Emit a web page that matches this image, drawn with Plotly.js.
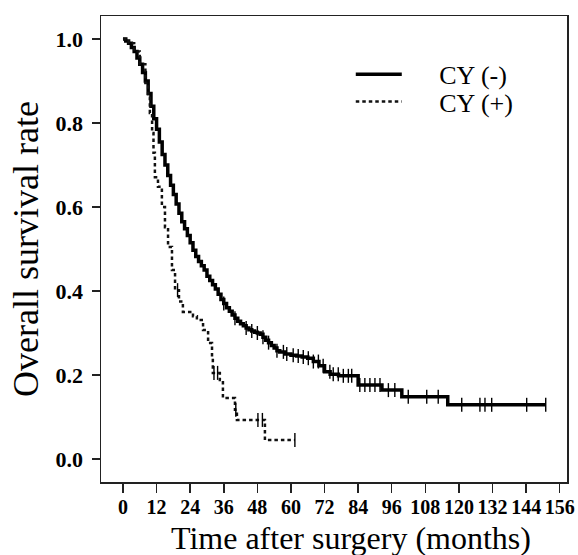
<!DOCTYPE html>
<html>
<head>
<meta charset="utf-8">
<script src="https://cdn.plot.ly/plotly-3.0.1.min.js"></script>
<style>
  html, body { margin: 0; padding: 0; background: #fff; }
  #chart { width: 578px; height: 555px; }
</style>
</head>
<body>
<div id="chart"></div>
<script>
// ---- Data ----
const seriesNames = ["CY (-)", "CY (+)"];

// CY (-): Kaplan-Meier step points (months, survival)
const cyNegTime = [0, 1, 2, 3, 4, 5, 6, 7, 8, 9, 10, 11, 12, 13, 14, 15, 16, 17, 18, 19,
  20, 21, 22, 23, 24, 25, 26, 27, 28, 29, 30, 31, 32, 33, 34, 35, 36, 37, 38, 39,
  40, 41, 42, 43, 44, 45, 46, 47, 48, 49, 50, 51, 52, 53, 54, 55, 56, 58, 60, 62,
  64, 66, 68, 70, 72, 74, 77, 84, 92.5, 99.6, 116, 151];
const cyNegSurv = [1.0, 0.995, 0.99, 0.98, 0.97, 0.955, 0.94, 0.92, 0.9, 0.87, 0.84, 0.81, 0.785, 0.755, 0.725, 0.70, 0.675, 0.652, 0.63, 0.607,
  0.585, 0.565, 0.548, 0.532, 0.515, 0.497, 0.482, 0.47, 0.46, 0.45, 0.435, 0.425, 0.415, 0.405, 0.392, 0.38, 0.37, 0.36, 0.352, 0.343,
  0.335, 0.328, 0.322, 0.317, 0.312, 0.308, 0.305, 0.302, 0.30, 0.297, 0.29, 0.283, 0.277, 0.27, 0.264, 0.258, 0.255, 0.25, 0.247, 0.245,
  0.243, 0.24, 0.232, 0.222, 0.208, 0.202, 0.198, 0.176, 0.164, 0.148, 0.129, 0.129];
// CY (-) censored observations (months)
const cyNegCensor = [36, 40, 44, 46, 48, 50, 52, 55, 57.3, 58.5, 60.8, 62.6, 64.4, 66.2, 68, 69.8, 71.5, 73.9, 75.1,
  76.9, 78.7, 80.5, 81.7, 84.6, 86.4, 88.2, 90, 91.8, 94.8, 97.1, 101.9, 108.5, 112.6, 121, 127.5, 129.3, 131.7, 144.2, 151];

// CY (+): Kaplan-Meier step points (months, survival)
const cyPosTime = [0, 2, 4, 6, 8, 9, 9.6, 10.4, 10.9, 11.4, 12.5, 13.9, 15, 16.1, 17.5, 18.6, 20, 21.4,
  25, 26.4, 28.6, 30.4, 31.8, 32.1, 34.6, 35.7, 40, 40.7, 50.7, 61.4];
const cyPosSurv = [1.0, 0.99, 0.97, 0.94, 0.895, 0.86, 0.824, 0.776, 0.729, 0.671, 0.648, 0.60, 0.552, 0.505, 0.45, 0.402, 0.375, 0.35,
  0.34, 0.331, 0.307, 0.276, 0.243, 0.205, 0.188, 0.145, 0.117, 0.093, 0.045, 0.045];
// CY (+) censored observations (months)
const cyPosCensor = [19.5, 32.5, 33.8, 40.3, 48.2, 49.8, 61.4];

// Axis ticks
const xTicks = [0, 12, 24, 36, 48, 60, 72, 84, 96, 108, 120, 132, 144, 156];
const yTicks = [0.0, 0.2, 0.4, 0.6, 0.8, 1.0];

// ---- Helpers ----
function survAt(times, surv, t) {
  let s = surv[0];
  for (let i = 0; i < times.length; i++) {
    if (times[i] <= t + 1e-9) s = surv[i]; else break;
  }
  return s;
}

const font = "Liberation Serif, Times New Roman, serif";
const pad = "\u00a0\u00a0\u00a0\u00a0\u00a0";

const traces = [
  {
    x: cyNegTime, y: cyNegSurv, type: "scatter", mode: "lines",
    name: pad + seriesNames[0], legend: "legend",
    line: { shape: "hv", color: "#000", width: 3.5 },
    hoverinfo: "skip"
  },
  {
    x: cyPosTime, y: cyPosSurv, type: "scatter", mode: "lines",
    name: pad + seriesNames[1], legend: "legend2",
    line: { shape: "hv", color: "#111", width: 2.5, dash: "3.5px,3px" },
    hoverinfo: "skip"
  },
  {
    x: cyNegCensor, y: cyNegCensor.map(t => survAt(cyNegTime, cyNegSurv, t)),
    type: "scatter", mode: "markers", showlegend: false, hoverinfo: "skip",
    marker: { symbol: "line-ns", size: 10, line: { color: "#000", width: 1.4 } }
  },
  {
    x: cyPosCensor, y: cyPosCensor.map(t => survAt(cyPosTime, cyPosSurv, t)),
    type: "scatter", mode: "markers", showlegend: false, hoverinfo: "skip",
    marker: { symbol: "line-ns", size: 10, line: { color: "#000", width: 1.4 } }
  }
];

const legendBase = {
  xanchor: "left", yanchor: "top",
  bgcolor: "rgba(0,0,0,0)", borderwidth: 0,
  font: { family: font, size: 26, color: "#000" },
  itemwidth: 46
};

const layout = {
  width: 578, height: 555,
  margin: { l: 101, r: 11, t: 16, b: 73, pad: 0 },
  paper_bgcolor: "#fff", plot_bgcolor: "#fff",
  font: { family: font, color: "#000" },
  showlegend: true,
  legend: Object.assign({}, legendBase, { x: 0.536, y: 0.925 }),
  legend2: Object.assign({}, legendBase, { x: 0.536, y: 0.867 }),
  xaxis: {
    range: [-7.85, 158.6],
    tickmode: "array", tickvals: xTicks, ticktext: xTicks.map(String),
    ticks: "outside", ticklen: 9, tickwidth: 1.5, tickcolor: "#222",
    ticklabelstandoff: -3,
    tickfont: { family: font, size: 20, color: "#000", weight: "bold" },
    showline: true, linecolor: "#222", linewidth: 1.5, mirror: true,
    showgrid: false, zeroline: false, fixedrange: true,
    title: { text: "" }
  },
  yaxis: {
    range: [-0.0548, 1.0548],
    tickmode: "array", tickvals: yTicks, ticktext: yTicks.map(v => v.toFixed(1)),
    ticks: "outside", ticklen: 8, tickwidth: 1.5, tickcolor: "#222",
    ticklabelstandoff: 4,
    tickfont: { family: font, size: 22, color: "#000", weight: "bold" },
    showline: true, linecolor: "#222", linewidth: 1.5, mirror: true,
    showgrid: false, zeroline: false, fixedrange: true,
    title: { text: "Overall survival rate", font: { family: font, size: 36, color: "#000" }, standoff: 6 },
    automargin: false
  },
  annotations: [
    {
      text: "Time after surgery (months)",
      xref: "paper", yref: "paper", x: 0.536, y: 0, xanchor: "center", yanchor: "top",
      yshift: -36, showarrow: false,
      font: { family: font, size: 32, color: "#000" }
    }
  ]
};

Plotly.newPlot("chart", traces, layout, { displayModeBar: false, staticPlot: true });
</script>
</body>
</html>
